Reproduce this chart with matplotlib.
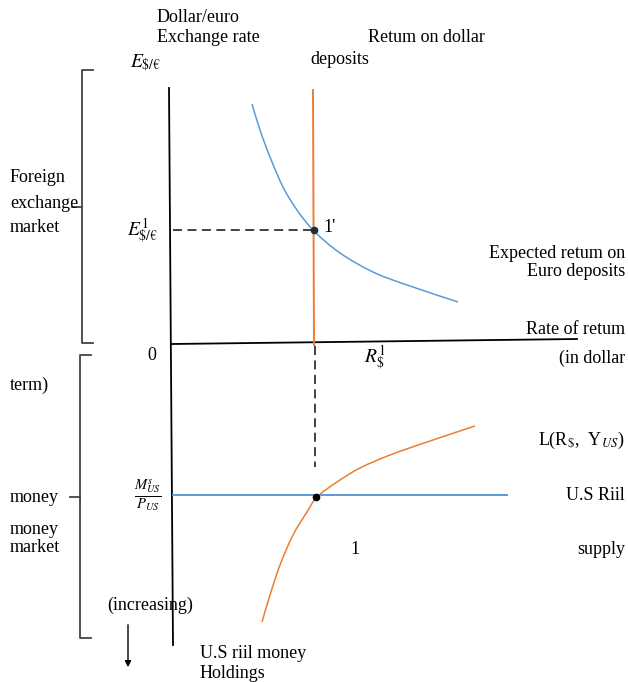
import matplotlib
matplotlib.use("Agg")
import matplotlib.pyplot as plt
from matplotlib.path import Path
from matplotlib.patches import PathPatch
import numpy as np

plt.rcParams['font.family'] = ['Liberation Serif', 'DejaVu Serif']
plt.rcParams['mathtext.fontset'] = 'stix'

BLUE = '#5b9bd5'
ORANGE = '#ed7d31'

# curves sampled on the drawing canvas (x right, y down)
euro_return_x = [252, 260, 270, 283, 297, 314, 340, 373, 407, 458]
euro_return_y = [104, 130, 157, 187, 210, 231, 253, 272, 285, 302]

money_demand_x = [262, 270, 280, 293, 307, 317, 337, 360, 390, 427, 475]
money_demand_y = [622, 595, 565, 535, 512, 497, 482, 468, 455, 442, 426]

dollar_return_x = [313, 314]
dollar_return_y = [90, 345]

money_supply_x = [173, 507]
money_supply_y = [495, 495]

eq_fx = (314, 230)
eq_mm = (316, 497)


def smooth_path(xs, ys):
    # Catmull-Rom through the sampled points, drawn as cubic Bezier pieces
    pts = np.column_stack([xs, ys]).astype(float)
    ext = np.vstack([pts[0], pts, pts[-1]])
    verts = [pts[0]]
    codes = [Path.MOVETO]
    for i in range(1, len(ext) - 2):
        p0, p1, p2, p3 = ext[i - 1], ext[i], ext[i + 1], ext[i + 2]
        verts += [p1 + (p2 - p0) / 6, p2 - (p3 - p1) / 6, p2]
        codes += [Path.CURVE4] * 3
    return Path(verts, codes)


fig = plt.figure(figsize=(6.28, 6.82), dpi=100)
ax = fig.add_axes([0, 0, 1, 1])
ax.set_xlim(0, 628)
ax.set_ylim(682, 0)
ax.axis('off')

# axes
ax.plot([169, 173], [88, 645], color='black', lw=1.3)
ax.plot([172, 577], [344, 339], color='black', lw=1.3)

# foreign exchange market
ax.add_patch(PathPatch(smooth_path(euro_return_x, euro_return_y), fill=False, ec=BLUE, lw=1.1))
ax.plot(dollar_return_x, dollar_return_y, color=ORANGE, lw=1.4)
ax.plot([173, eq_fx[0]], [eq_fx[1], eq_fx[1]], color='#333333', lw=1.3, ls=(0, (5, 3)))
ax.plot([315, 315], [346, 467], color='#333333', lw=1.3, ls=(0, (5, 3)))
ax.plot(*eq_fx, 'o', color='#1f2d3d', ms=4.5)

# money market
ax.plot(money_supply_x, money_supply_y, color=BLUE, lw=1.4)
ax.add_patch(PathPatch(smooth_path(money_demand_x, money_demand_y), fill=False, ec=ORANGE, lw=1.1))
ax.plot(*eq_mm, 'o', color='black', ms=4.5)

# brackets
for x0, top, bottom, mid in [(82, 70, 343, 207), (80, 355, 638, 497)]:
    ax.plot([x0 + 11, x0, x0, x0 + 11], [top, top, bottom, bottom], color='#444444', lw=1.3)
    ax.plot([x0 - 10, x0], [mid, mid], color='#444444', lw=1.3)

ax.annotate('', xy=(128, 670), xytext=(128, 622),
            arrowprops=dict(arrowstyle='-|>', color='black', lw=1, mutation_scale=9))

fs = 13
kw = dict(fontsize=fs, color='black', va='center')
ax.text(157, 17, 'Dollar/euro', **kw)
ax.text(157, 38, 'Exchange rate', **kw)
ax.text(368, 38, 'Retum on dollar', **kw)
ax.text(310, 60, 'deposits', **kw)
ax.text(130, 63, r'$E_{\$/€}$', va='center', fontsize=14)
ax.text(127, 231, r'$E^1_{\$/€}$', va='center', fontsize=14)
ax.text(147, 355, '0', **kw)
ax.text(364, 358, r'$R^1_{\$}$', va='center', fontsize=14)
ax.text(323, 228, "1'", **kw)
ax.text(10, 177, 'Foreign', **kw)
ax.text(10, 203, 'exchange', **kw)
ax.text(10, 228, 'market', **kw)
ax.text(625, 253, 'Expected retum on', ha='right', **kw)
ax.text(625, 272, 'Euro deposits', ha='right', **kw)
ax.text(625, 329, 'Rate of retum', ha='right', **kw)
ax.text(625, 358, '(in dollar', ha='right', **kw)
ax.text(10, 385, 'term)', **kw)
ax.text(625, 440, 'L(R' + r'$_{\$}$' + ',  Y' + r'$_{US}$' + ')', ha='right', **kw)
ax.text(625, 496, 'U.S Riil', ha='right', **kw)
ax.text(625, 549, 'supply', ha='right', **kw)
ax.text(350, 549, '1', **kw)
ax.text(10, 497, 'money', **kw)
ax.text(10, 529, 'money', **kw)
ax.text(10, 548, 'market', **kw)
ax.text(148, 495, r'$\frac{M^s_{US}}{P_{US}}$', va='center', ha='center', fontsize=15)
ax.text(107, 605, '(increasing)', **kw)
ax.text(200, 654, 'U.S riil money', **kw)
ax.text(200, 674, 'Holdings', **kw)

fig.savefig('out.png', dpi=100)
